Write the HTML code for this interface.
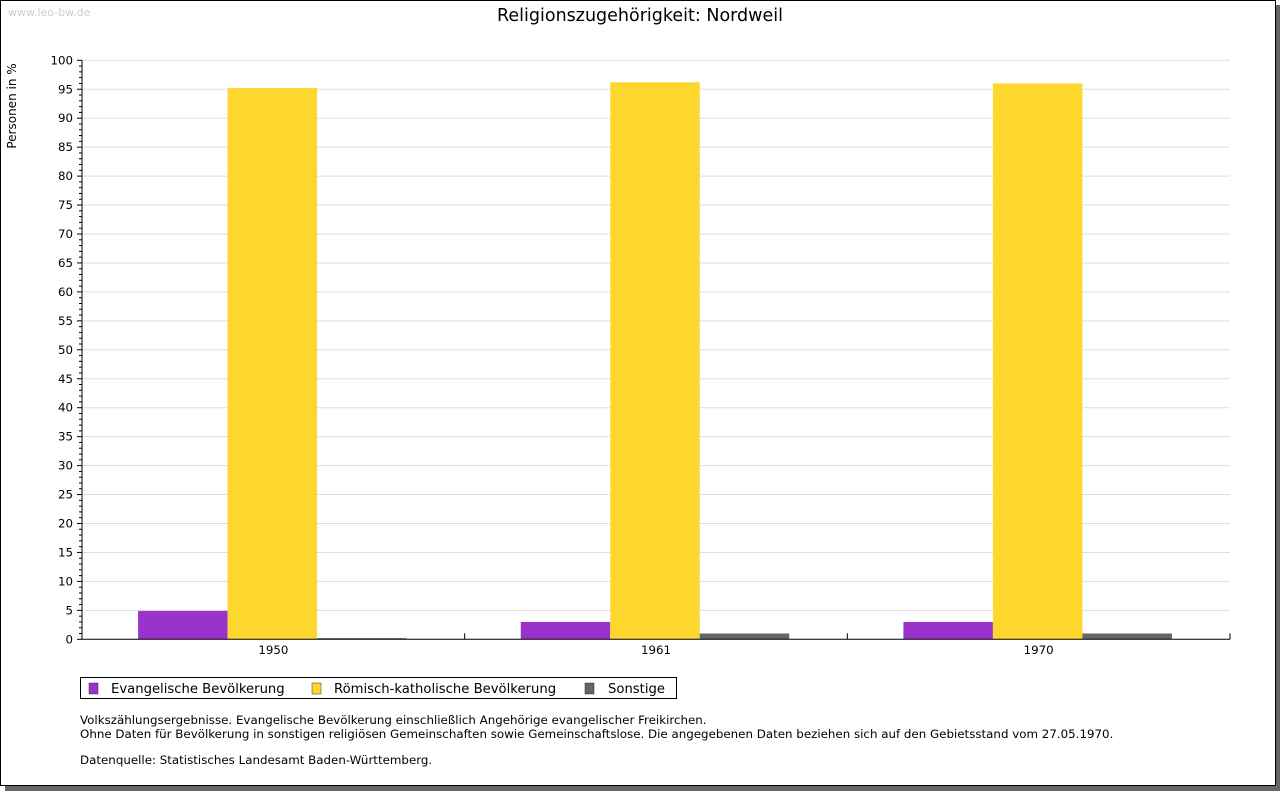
<!DOCTYPE html>
<html><head><meta charset="utf-8"><style>
body{margin:0;width:1280px;height:791px;background:#fff;font-family:"DejaVu Sans","Liberation Sans",sans-serif;overflow:hidden}
#frame{position:absolute;left:0;top:0;width:1274px;height:784px;border:1px solid #000;background:#fff;box-shadow:5px 5px 0 #666}
</style></head><body>
<div id="frame"></div>
<svg id="chart" width="1280" height="791" style="position:absolute;left:0;top:0" font-family="DejaVu Sans, Liberation Sans, sans-serif">
<text x="8" y="16" font-size="11" fill="#ccc">www.leo-bw.de</text>
<text x="640" y="21" font-size="17.5" text-anchor="middle" fill="#000">Religionszugehörigkeit: Nordweil</text>
<text transform="translate(16,106) rotate(-90)" font-size="12" text-anchor="middle">Personen in %</text>
<g id="grid"></g><g id="bars"></g><g id="axes"></g>
<g>
<rect x="80.5" y="677.5" width="596" height="21" fill="none" stroke="#000"/>
<rect x="89" y="683" width="9" height="11" fill="#9933CC" stroke="#333" stroke-width="0.5"/>
<text x="111" y="693" font-size="13.2">Evangelische Bevölkerung</text>
<rect x="312" y="683" width="9" height="11" fill="#FDD62E" stroke="#333" stroke-width="0.5"/>
<text x="334" y="693" font-size="13.2">Römisch-katholische Bevölkerung</text>
<rect x="585" y="683" width="9" height="11" fill="#666666" stroke="#333" stroke-width="0.5"/>
<text x="608" y="693" font-size="13.2">Sonstige</text>
</g>
<g font-size="11.85">
<text x="80" y="724">Volkszählungsergebnisse. Evangelische Bevölkerung einschließlich Angehörige evangelischer Freikirchen.</text>
<text x="80" y="738">Ohne Daten für Bevölkerung in sonstigen religiösen Gemeinschaften sowie Gemeinschaftslose. Die angegebenen Daten beziehen sich auf den Gebietsstand vom 27.05.1970.</text>
<text x="80" y="764">Datenquelle: Statistisches Landesamt Baden-Württemberg.</text>
</g>
</svg>
<script>
const categories=["1950","1961","1970"];
const evangelisch=[4.9,3.0,3.0];
const katholisch=[95.2,96.2,96.0];
const sonstige=[0.2,1.0,1.0];
const yTicks=[0,5,10,15,20,25,30,35,40,45,50,55,60,65,70,75,80,85,90,95,100];
const NS="http://www.w3.org/2000/svg";
const x0=82,x1=1230,y0=639.3,y1=60.3,ymax=100;
const y=v=>y0-(v/ymax)*(y0-y1);
const gw=(x1-x0)/categories.length;
function mk(p,t,a){const e=document.createElementNS(NS,t);for(const k in a)e.setAttribute(k,a[k]);p.appendChild(e);return e;}
const grid=document.getElementById('grid'),bars=document.getElementById('bars'),axes=document.getElementById('axes');
yTicks.forEach(v=>{
 if(v>0){const l=mk(grid,'line',{x1:x0,x2:x1,y1:y(v),y2:y(v),stroke:'#ddd'});
 
 }
 const t=mk(axes,'text',{x:x0-9,y:y(v)+4,'font-size':11.8,'text-anchor':'end'});t.textContent=v;
 
 
 mk(axes,'line',{x1:x0-5,x2:x0,y1:y(v),y2:y(v),stroke:'#000'});
});
for(let v=0;v<=ymax;v++){if(v%5)mk(axes,'line',{x1:x0-3,x2:x0,y1:y(v),y2:y(v),stroke:'#000'});}
const series=[[evangelisch,'#9933CC','evangelisch'],[katholisch,'#FDD62E','katholisch'],[sonstige,'#666666','sonstige']];
const bw=89.5,off=(gw-3*bw)/2-1;
categories.forEach((c,i)=>{
 series.forEach(([arr,col,n],j)=>{
  const bx=x0+i*gw+off+j*bw;
  const r=mk(bars,'rect',{x:bx,y:y(arr[i]),width:bw,height:y0-y(arr[i]),fill:col});
  
  
 });
 const t=mk(axes,'text',{x:x0+i*gw+gw/2,y:654,'font-size':11.8,'text-anchor':'middle'});t.textContent=c;
 
 
 if(i>0)mk(axes,'line',{x1:x0+i*gw,x2:x0+i*gw,y1:y0-6,y2:y0,stroke:'#000'});
});
mk(axes,'line',{x1:x1,x2:x1,y1:y0-6,y2:y0,stroke:'#000'});
const ya=mk(axes,'line',{x1:x0,x2:x0,y1:y1,y2:y0,stroke:'#000'});


const xa=mk(axes,'line',{x1:x0,x2:x1,y1:y0,y2:y0,stroke:'#000'});


</script>
</body></html>
